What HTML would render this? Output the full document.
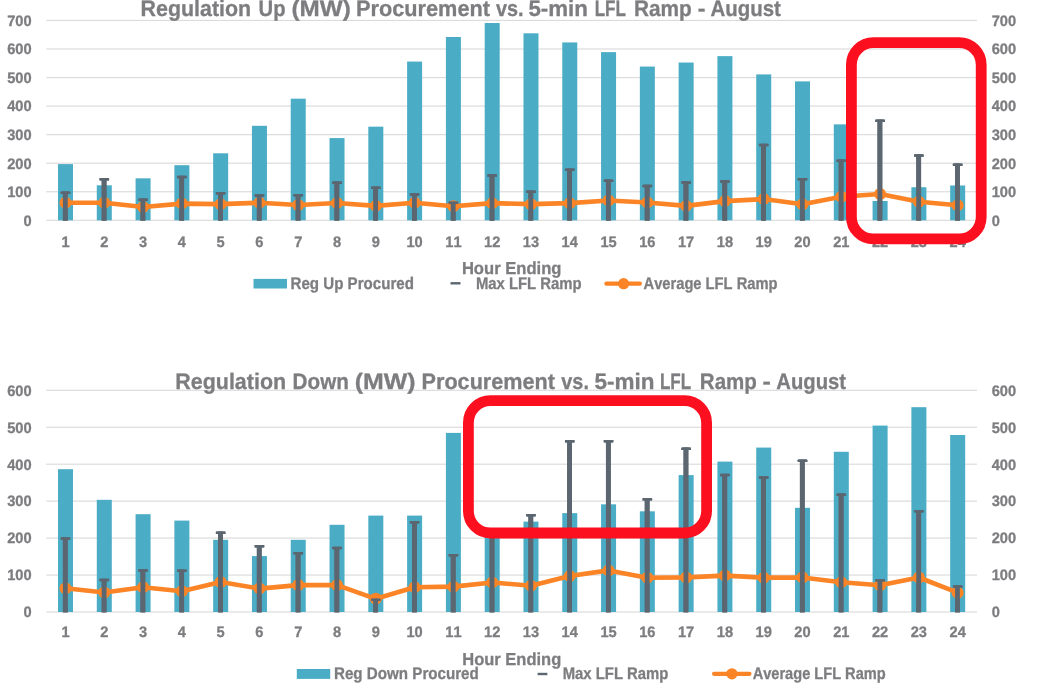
<!DOCTYPE html>
<html><head><meta charset="utf-8"><style>
html,body{margin:0;padding:0;background:#fff;width:1042px;height:683px;overflow:hidden}
svg{display:block;will-change:transform}
.t{font-family:"Liberation Sans",sans-serif;font-weight:bold;font-size:15px;fill:#7d7d80;font-kerning:none;text-rendering:geometricPrecision;stroke:#7d7d80;stroke-width:0.3px}
.tk{font-size:15.2px}
</style></head><body>
<svg width="1042" height="683" viewBox="0 0 1042 683">
<rect width="1042" height="683" fill="#fff"/>
<rect x="46.2" y="219.70" width="930.8" height="1.2" fill="#dcdcdc"/>
<rect x="46.2" y="191.15" width="930.8" height="1.2" fill="#dcdcdc"/>
<rect x="46.2" y="162.60" width="930.8" height="1.2" fill="#dcdcdc"/>
<rect x="46.2" y="134.05" width="930.8" height="1.2" fill="#dcdcdc"/>
<rect x="46.2" y="105.50" width="930.8" height="1.2" fill="#dcdcdc"/>
<rect x="46.2" y="76.95" width="930.8" height="1.2" fill="#dcdcdc"/>
<rect x="46.2" y="48.40" width="930.8" height="1.2" fill="#dcdcdc"/>
<rect x="46.2" y="19.85" width="930.8" height="1.2" fill="#dcdcdc"/>
<rect x="58.00" y="164.11" width="15.0" height="56.19" fill="#4bacc6"/>
<rect x="96.79" y="185.30" width="15.0" height="35.00" fill="#4bacc6"/>
<rect x="135.58" y="178.33" width="15.0" height="41.97" fill="#4bacc6"/>
<rect x="174.37" y="165.20" width="15.0" height="55.10" fill="#4bacc6"/>
<rect x="213.16" y="153.29" width="15.0" height="67.01" fill="#4bacc6"/>
<rect x="251.95" y="125.80" width="15.0" height="94.50" fill="#4bacc6"/>
<rect x="290.74" y="98.68" width="15.0" height="121.62" fill="#4bacc6"/>
<rect x="329.53" y="138.08" width="15.0" height="82.22" fill="#4bacc6"/>
<rect x="368.32" y="126.66" width="15.0" height="93.64" fill="#4bacc6"/>
<rect x="407.11" y="61.56" width="15.0" height="158.74" fill="#4bacc6"/>
<rect x="445.90" y="37.01" width="15.0" height="183.29" fill="#4bacc6"/>
<rect x="484.69" y="23.02" width="15.0" height="197.28" fill="#4bacc6"/>
<rect x="523.48" y="33.30" width="15.0" height="187.00" fill="#4bacc6"/>
<rect x="562.27" y="42.43" width="15.0" height="177.87" fill="#4bacc6"/>
<rect x="601.06" y="52.14" width="15.0" height="168.16" fill="#4bacc6"/>
<rect x="639.85" y="66.56" width="15.0" height="153.74" fill="#4bacc6"/>
<rect x="678.64" y="62.53" width="15.0" height="157.77" fill="#4bacc6"/>
<rect x="717.43" y="56.14" width="15.0" height="164.16" fill="#4bacc6"/>
<rect x="756.22" y="74.41" width="15.0" height="145.89" fill="#4bacc6"/>
<rect x="795.01" y="81.38" width="15.0" height="138.92" fill="#4bacc6"/>
<rect x="833.80" y="124.37" width="15.0" height="95.93" fill="#4bacc6"/>
<rect x="872.59" y="200.97" width="15.0" height="19.33" fill="#4bacc6"/>
<rect x="911.38" y="187.24" width="15.0" height="33.06" fill="#4bacc6"/>
<rect x="950.17" y="185.47" width="15.0" height="34.83" fill="#4bacc6"/>
<rect x="62.90" y="191.75" width="4.8" height="28.95" fill="#5b6670"/>
<rect x="60.70" y="191.60" width="9.6" height="2.5" rx="0.6" fill="#5b6670"/>
<rect x="101.69" y="178.19" width="4.8" height="42.51" fill="#5b6670"/>
<rect x="99.49" y="178.04" width="9.6" height="2.5" rx="0.6" fill="#5b6670"/>
<rect x="140.48" y="198.54" width="4.8" height="22.16" fill="#5b6670"/>
<rect x="138.28" y="198.39" width="9.6" height="2.5" rx="0.6" fill="#5b6670"/>
<rect x="179.27" y="175.90" width="4.8" height="44.80" fill="#5b6670"/>
<rect x="177.07" y="175.75" width="9.6" height="2.5" rx="0.6" fill="#5b6670"/>
<rect x="218.06" y="192.04" width="4.8" height="28.66" fill="#5b6670"/>
<rect x="215.86" y="191.89" width="9.6" height="2.5" rx="0.6" fill="#5b6670"/>
<rect x="256.85" y="194.35" width="4.8" height="26.35" fill="#5b6670"/>
<rect x="254.65" y="194.20" width="9.6" height="2.5" rx="0.6" fill="#5b6670"/>
<rect x="295.64" y="194.18" width="4.8" height="26.52" fill="#5b6670"/>
<rect x="293.44" y="194.03" width="9.6" height="2.5" rx="0.6" fill="#5b6670"/>
<rect x="334.43" y="181.61" width="4.8" height="39.09" fill="#5b6670"/>
<rect x="332.23" y="181.46" width="9.6" height="2.5" rx="0.6" fill="#5b6670"/>
<rect x="373.22" y="186.75" width="4.8" height="33.95" fill="#5b6670"/>
<rect x="371.02" y="186.60" width="9.6" height="2.5" rx="0.6" fill="#5b6670"/>
<rect x="412.01" y="193.32" width="4.8" height="27.38" fill="#5b6670"/>
<rect x="409.81" y="193.17" width="9.6" height="2.5" rx="0.6" fill="#5b6670"/>
<rect x="450.80" y="201.66" width="4.8" height="19.04" fill="#5b6670"/>
<rect x="448.60" y="201.51" width="9.6" height="2.5" rx="0.6" fill="#5b6670"/>
<rect x="489.59" y="174.48" width="4.8" height="46.22" fill="#5b6670"/>
<rect x="487.39" y="174.33" width="9.6" height="2.5" rx="0.6" fill="#5b6670"/>
<rect x="528.38" y="190.75" width="4.8" height="29.95" fill="#5b6670"/>
<rect x="526.18" y="190.60" width="9.6" height="2.5" rx="0.6" fill="#5b6670"/>
<rect x="567.17" y="168.77" width="4.8" height="51.93" fill="#5b6670"/>
<rect x="564.97" y="168.62" width="9.6" height="2.5" rx="0.6" fill="#5b6670"/>
<rect x="605.96" y="179.62" width="4.8" height="41.08" fill="#5b6670"/>
<rect x="603.76" y="179.47" width="9.6" height="2.5" rx="0.6" fill="#5b6670"/>
<rect x="644.75" y="184.81" width="4.8" height="35.89" fill="#5b6670"/>
<rect x="642.55" y="184.66" width="9.6" height="2.5" rx="0.6" fill="#5b6670"/>
<rect x="683.54" y="181.41" width="4.8" height="39.29" fill="#5b6670"/>
<rect x="681.34" y="181.26" width="9.6" height="2.5" rx="0.6" fill="#5b6670"/>
<rect x="722.33" y="180.47" width="4.8" height="40.23" fill="#5b6670"/>
<rect x="720.13" y="180.32" width="9.6" height="2.5" rx="0.6" fill="#5b6670"/>
<rect x="761.12" y="143.93" width="4.8" height="76.77" fill="#5b6670"/>
<rect x="758.92" y="143.78" width="9.6" height="2.5" rx="0.6" fill="#5b6670"/>
<rect x="799.91" y="178.05" width="4.8" height="42.65" fill="#5b6670"/>
<rect x="797.71" y="177.90" width="9.6" height="2.5" rx="0.6" fill="#5b6670"/>
<rect x="838.70" y="159.63" width="4.8" height="61.07" fill="#5b6670"/>
<rect x="836.50" y="159.48" width="9.6" height="2.5" rx="0.6" fill="#5b6670"/>
<rect x="877.49" y="119.72" width="4.8" height="100.98" fill="#5b6670"/>
<rect x="875.29" y="119.57" width="9.6" height="2.5" rx="0.6" fill="#5b6670"/>
<rect x="916.28" y="154.49" width="4.8" height="66.21" fill="#5b6670"/>
<rect x="914.08" y="154.34" width="9.6" height="2.5" rx="0.6" fill="#5b6670"/>
<rect x="955.07" y="163.69" width="4.8" height="57.01" fill="#5b6670"/>
<rect x="952.87" y="163.54" width="9.6" height="2.5" rx="0.6" fill="#5b6670"/>
<polyline points="65.50,202.74 104.29,202.74 143.08,207.02 181.87,203.60 220.66,204.17 259.45,202.74 298.24,205.03 337.03,203.03 375.82,205.88 414.61,202.74 453.40,206.28 492.19,203.14 530.98,204.17 569.77,203.14 608.56,200.49 647.35,202.46 686.14,205.88 724.93,201.11 763.72,199.09 802.51,204.17 841.30,196.75 880.09,193.98 918.88,201.69 957.67,205.31" fill="none" stroke="#fb8426" stroke-width="4.6" stroke-linejoin="round"/>
<circle cx="65.50" cy="202.74" r="6.0" fill="#fb8426"/>
<circle cx="104.29" cy="202.74" r="6.0" fill="#fb8426"/>
<circle cx="143.08" cy="207.02" r="6.0" fill="#fb8426"/>
<circle cx="181.87" cy="203.60" r="6.0" fill="#fb8426"/>
<circle cx="220.66" cy="204.17" r="6.0" fill="#fb8426"/>
<circle cx="259.45" cy="202.74" r="6.0" fill="#fb8426"/>
<circle cx="298.24" cy="205.03" r="6.0" fill="#fb8426"/>
<circle cx="337.03" cy="203.03" r="6.0" fill="#fb8426"/>
<circle cx="375.82" cy="205.88" r="6.0" fill="#fb8426"/>
<circle cx="414.61" cy="202.74" r="6.0" fill="#fb8426"/>
<circle cx="453.40" cy="206.28" r="6.0" fill="#fb8426"/>
<circle cx="492.19" cy="203.14" r="6.0" fill="#fb8426"/>
<circle cx="530.98" cy="204.17" r="6.0" fill="#fb8426"/>
<circle cx="569.77" cy="203.14" r="6.0" fill="#fb8426"/>
<circle cx="608.56" cy="200.49" r="6.0" fill="#fb8426"/>
<circle cx="647.35" cy="202.46" r="6.0" fill="#fb8426"/>
<circle cx="686.14" cy="205.88" r="6.0" fill="#fb8426"/>
<circle cx="724.93" cy="201.11" r="6.0" fill="#fb8426"/>
<circle cx="763.72" cy="199.09" r="6.0" fill="#fb8426"/>
<circle cx="802.51" cy="204.17" r="6.0" fill="#fb8426"/>
<circle cx="841.30" cy="196.75" r="6.0" fill="#fb8426"/>
<circle cx="880.09" cy="193.98" r="6.0" fill="#fb8426"/>
<circle cx="918.88" cy="201.69" r="6.0" fill="#fb8426"/>
<circle cx="957.67" cy="205.31" r="6.0" fill="#fb8426"/>
<rect x="62.90" y="191.75" width="4.8" height="28.95" fill="#5b6670"/>
<rect x="60.70" y="191.60" width="9.6" height="2.5" rx="0.6" fill="#5b6670"/>
<rect x="101.69" y="178.19" width="4.8" height="42.51" fill="#5b6670"/>
<rect x="99.49" y="178.04" width="9.6" height="2.5" rx="0.6" fill="#5b6670"/>
<rect x="140.48" y="198.54" width="4.8" height="22.16" fill="#5b6670"/>
<rect x="138.28" y="198.39" width="9.6" height="2.5" rx="0.6" fill="#5b6670"/>
<rect x="179.27" y="175.90" width="4.8" height="44.80" fill="#5b6670"/>
<rect x="177.07" y="175.75" width="9.6" height="2.5" rx="0.6" fill="#5b6670"/>
<rect x="218.06" y="192.04" width="4.8" height="28.66" fill="#5b6670"/>
<rect x="215.86" y="191.89" width="9.6" height="2.5" rx="0.6" fill="#5b6670"/>
<rect x="256.85" y="194.35" width="4.8" height="26.35" fill="#5b6670"/>
<rect x="254.65" y="194.20" width="9.6" height="2.5" rx="0.6" fill="#5b6670"/>
<rect x="295.64" y="194.18" width="4.8" height="26.52" fill="#5b6670"/>
<rect x="293.44" y="194.03" width="9.6" height="2.5" rx="0.6" fill="#5b6670"/>
<rect x="334.43" y="181.61" width="4.8" height="39.09" fill="#5b6670"/>
<rect x="332.23" y="181.46" width="9.6" height="2.5" rx="0.6" fill="#5b6670"/>
<rect x="373.22" y="186.75" width="4.8" height="33.95" fill="#5b6670"/>
<rect x="371.02" y="186.60" width="9.6" height="2.5" rx="0.6" fill="#5b6670"/>
<rect x="412.01" y="193.32" width="4.8" height="27.38" fill="#5b6670"/>
<rect x="409.81" y="193.17" width="9.6" height="2.5" rx="0.6" fill="#5b6670"/>
<rect x="450.80" y="201.66" width="4.8" height="19.04" fill="#5b6670"/>
<rect x="448.60" y="201.51" width="9.6" height="2.5" rx="0.6" fill="#5b6670"/>
<rect x="489.59" y="174.48" width="4.8" height="46.22" fill="#5b6670"/>
<rect x="487.39" y="174.33" width="9.6" height="2.5" rx="0.6" fill="#5b6670"/>
<rect x="528.38" y="190.75" width="4.8" height="29.95" fill="#5b6670"/>
<rect x="526.18" y="190.60" width="9.6" height="2.5" rx="0.6" fill="#5b6670"/>
<rect x="567.17" y="168.77" width="4.8" height="51.93" fill="#5b6670"/>
<rect x="564.97" y="168.62" width="9.6" height="2.5" rx="0.6" fill="#5b6670"/>
<rect x="605.96" y="179.62" width="4.8" height="41.08" fill="#5b6670"/>
<rect x="603.76" y="179.47" width="9.6" height="2.5" rx="0.6" fill="#5b6670"/>
<rect x="644.75" y="184.81" width="4.8" height="35.89" fill="#5b6670"/>
<rect x="642.55" y="184.66" width="9.6" height="2.5" rx="0.6" fill="#5b6670"/>
<rect x="683.54" y="181.41" width="4.8" height="39.29" fill="#5b6670"/>
<rect x="681.34" y="181.26" width="9.6" height="2.5" rx="0.6" fill="#5b6670"/>
<rect x="722.33" y="180.47" width="4.8" height="40.23" fill="#5b6670"/>
<rect x="720.13" y="180.32" width="9.6" height="2.5" rx="0.6" fill="#5b6670"/>
<rect x="761.12" y="143.93" width="4.8" height="76.77" fill="#5b6670"/>
<rect x="758.92" y="143.78" width="9.6" height="2.5" rx="0.6" fill="#5b6670"/>
<rect x="799.91" y="178.05" width="4.8" height="42.65" fill="#5b6670"/>
<rect x="797.71" y="177.90" width="9.6" height="2.5" rx="0.6" fill="#5b6670"/>
<rect x="838.70" y="159.63" width="4.8" height="61.07" fill="#5b6670"/>
<rect x="836.50" y="159.48" width="9.6" height="2.5" rx="0.6" fill="#5b6670"/>
<rect x="877.49" y="119.72" width="4.8" height="100.98" fill="#5b6670"/>
<rect x="875.29" y="119.57" width="9.6" height="2.5" rx="0.6" fill="#5b6670"/>
<rect x="916.28" y="154.49" width="4.8" height="66.21" fill="#5b6670"/>
<rect x="914.08" y="154.34" width="9.6" height="2.5" rx="0.6" fill="#5b6670"/>
<rect x="955.07" y="163.69" width="4.8" height="57.01" fill="#5b6670"/>
<rect x="952.87" y="163.54" width="9.6" height="2.5" rx="0.6" fill="#5b6670"/>
<text x="31.6" y="225.60" text-anchor="end" textLength="8.16" lengthAdjust="spacingAndGlyphs" class="t tk">0</text>
<text x="991.7" y="225.60" textLength="8.16" lengthAdjust="spacingAndGlyphs" class="t tk">0</text>
<text x="31.6" y="197.05" text-anchor="end" textLength="24.47" lengthAdjust="spacingAndGlyphs" class="t tk">100</text>
<text x="991.7" y="197.05" textLength="24.47" lengthAdjust="spacingAndGlyphs" class="t tk">100</text>
<text x="31.6" y="168.50" text-anchor="end" textLength="24.47" lengthAdjust="spacingAndGlyphs" class="t tk">200</text>
<text x="991.7" y="168.50" textLength="24.47" lengthAdjust="spacingAndGlyphs" class="t tk">200</text>
<text x="31.6" y="139.95" text-anchor="end" textLength="24.47" lengthAdjust="spacingAndGlyphs" class="t tk">300</text>
<text x="991.7" y="139.95" textLength="24.47" lengthAdjust="spacingAndGlyphs" class="t tk">300</text>
<text x="31.6" y="111.40" text-anchor="end" textLength="24.47" lengthAdjust="spacingAndGlyphs" class="t tk">400</text>
<text x="991.7" y="111.40" textLength="24.47" lengthAdjust="spacingAndGlyphs" class="t tk">400</text>
<text x="31.6" y="82.85" text-anchor="end" textLength="24.47" lengthAdjust="spacingAndGlyphs" class="t tk">500</text>
<text x="991.7" y="82.85" textLength="24.47" lengthAdjust="spacingAndGlyphs" class="t tk">500</text>
<text x="31.6" y="54.30" text-anchor="end" textLength="24.47" lengthAdjust="spacingAndGlyphs" class="t tk">600</text>
<text x="991.7" y="54.30" textLength="24.47" lengthAdjust="spacingAndGlyphs" class="t tk">600</text>
<text x="31.6" y="25.75" text-anchor="end" textLength="24.47" lengthAdjust="spacingAndGlyphs" class="t tk">700</text>
<text x="991.7" y="25.75" textLength="24.47" lengthAdjust="spacingAndGlyphs" class="t tk">700</text>
<text x="65.50" y="246.5" text-anchor="middle" textLength="8.16" lengthAdjust="spacingAndGlyphs" class="t tk">1</text>
<text x="104.29" y="246.5" text-anchor="middle" textLength="8.16" lengthAdjust="spacingAndGlyphs" class="t tk">2</text>
<text x="143.08" y="246.5" text-anchor="middle" textLength="8.16" lengthAdjust="spacingAndGlyphs" class="t tk">3</text>
<text x="181.87" y="246.5" text-anchor="middle" textLength="8.16" lengthAdjust="spacingAndGlyphs" class="t tk">4</text>
<text x="220.66" y="246.5" text-anchor="middle" textLength="8.16" lengthAdjust="spacingAndGlyphs" class="t tk">5</text>
<text x="259.45" y="246.5" text-anchor="middle" textLength="8.16" lengthAdjust="spacingAndGlyphs" class="t tk">6</text>
<text x="298.24" y="246.5" text-anchor="middle" textLength="8.16" lengthAdjust="spacingAndGlyphs" class="t tk">7</text>
<text x="337.03" y="246.5" text-anchor="middle" textLength="8.16" lengthAdjust="spacingAndGlyphs" class="t tk">8</text>
<text x="375.82" y="246.5" text-anchor="middle" textLength="8.16" lengthAdjust="spacingAndGlyphs" class="t tk">9</text>
<text x="414.61" y="246.5" text-anchor="middle" textLength="16.32" lengthAdjust="spacingAndGlyphs" class="t tk">10</text>
<text x="453.40" y="246.5" text-anchor="middle" textLength="16.32" lengthAdjust="spacingAndGlyphs" class="t tk">11</text>
<text x="492.19" y="246.5" text-anchor="middle" textLength="16.32" lengthAdjust="spacingAndGlyphs" class="t tk">12</text>
<text x="530.98" y="246.5" text-anchor="middle" textLength="16.32" lengthAdjust="spacingAndGlyphs" class="t tk">13</text>
<text x="569.77" y="246.5" text-anchor="middle" textLength="16.32" lengthAdjust="spacingAndGlyphs" class="t tk">14</text>
<text x="608.56" y="246.5" text-anchor="middle" textLength="16.32" lengthAdjust="spacingAndGlyphs" class="t tk">15</text>
<text x="647.35" y="246.5" text-anchor="middle" textLength="16.32" lengthAdjust="spacingAndGlyphs" class="t tk">16</text>
<text x="686.14" y="246.5" text-anchor="middle" textLength="16.32" lengthAdjust="spacingAndGlyphs" class="t tk">17</text>
<text x="724.93" y="246.5" text-anchor="middle" textLength="16.32" lengthAdjust="spacingAndGlyphs" class="t tk">18</text>
<text x="763.72" y="246.5" text-anchor="middle" textLength="16.32" lengthAdjust="spacingAndGlyphs" class="t tk">19</text>
<text x="802.51" y="246.5" text-anchor="middle" textLength="16.32" lengthAdjust="spacingAndGlyphs" class="t tk">20</text>
<text x="841.30" y="246.5" text-anchor="middle" textLength="16.32" lengthAdjust="spacingAndGlyphs" class="t tk">21</text>
<text x="880.09" y="246.5" text-anchor="middle" textLength="16.32" lengthAdjust="spacingAndGlyphs" class="t tk">22</text>
<text x="918.88" y="246.5" text-anchor="middle" textLength="16.32" lengthAdjust="spacingAndGlyphs" class="t tk">23</text>
<text x="957.67" y="246.5" text-anchor="middle" textLength="16.32" lengthAdjust="spacingAndGlyphs" class="t tk">24</text>
<text x="140.57" y="15.7" textLength="110.56" lengthAdjust="spacingAndGlyphs" style="font-size:22.4px" class="t">Regulation</text>
<text x="258.59" y="15.7" textLength="26.94" lengthAdjust="spacingAndGlyphs" style="font-size:22.4px" class="t">Up</text>
<text x="291.49" y="15.7" textLength="59.32" lengthAdjust="spacingAndGlyphs" style="font-size:22.4px" class="t">(MW)</text>
<text x="356.05" y="15.7" textLength="133.92" lengthAdjust="spacingAndGlyphs" style="font-size:22.4px" class="t">Procurement</text>
<text x="495.92" y="15.7" textLength="27.65" lengthAdjust="spacingAndGlyphs" style="font-size:22.4px" class="t">vs.</text>
<text x="528.41" y="15.7" textLength="59.47" lengthAdjust="spacingAndGlyphs" style="font-size:22.4px" class="t">5-min</text>
<text x="594.66" y="15.7" textLength="31.27" lengthAdjust="spacingAndGlyphs" style="font-size:22.4px" class="t">LFL</text>
<text x="633.91" y="15.7" textLength="57.85" lengthAdjust="spacingAndGlyphs" style="font-size:22.4px" class="t">Ramp</text>
<text x="697.79" y="15.7" textLength="7.74" lengthAdjust="spacingAndGlyphs" style="font-size:22.4px" class="t">-</text>
<text x="710.39" y="15.7" textLength="70.46" lengthAdjust="spacingAndGlyphs" style="font-size:22.4px" class="t">August</text>
<text x="461.89" y="274.3" textLength="99.62" lengthAdjust="spacingAndGlyphs" style="font-size:17.3px" class="t">Hour Ending</text>
<rect x="253.5" y="278.9" width="33.5" height="9.6" fill="#4bacc6"/>
<rect x="450.5" y="282.1" width="10.0" height="2.4" fill="#5b6670"/>
<line x1="606.4" y1="283.7" x2="639.9" y2="283.7" stroke="#fb8426" stroke-width="4.2" stroke-linecap="round"/>
<circle cx="623.6" cy="283.7" r="5.6" fill="#fb8426"/>
<text x="290.59" y="289.45" textLength="123.30" lengthAdjust="spacingAndGlyphs" style="font-size:16.8px" class="t">Reg Up Procured</text>
<text x="475.91" y="289.45" textLength="105.70" lengthAdjust="spacingAndGlyphs" style="font-size:16.8px" class="t">Max LFL Ramp</text>
<text x="643.53" y="289.45" textLength="133.97" lengthAdjust="spacingAndGlyphs" style="font-size:16.8px" class="t">Average LFL Ramp</text>
<rect x="851.40" y="42.70" width="129.80" height="196.20" rx="22" ry="22" fill="none" stroke="#fc0f1f" stroke-width="10.8"/>
<rect x="46.2" y="611.40" width="930.8" height="1.2" fill="#dcdcdc"/>
<rect x="46.2" y="574.45" width="930.8" height="1.2" fill="#dcdcdc"/>
<rect x="46.2" y="537.50" width="930.8" height="1.2" fill="#dcdcdc"/>
<rect x="46.2" y="500.55" width="930.8" height="1.2" fill="#dcdcdc"/>
<rect x="46.2" y="463.60" width="930.8" height="1.2" fill="#dcdcdc"/>
<rect x="46.2" y="426.65" width="930.8" height="1.2" fill="#dcdcdc"/>
<rect x="46.2" y="389.70" width="930.8" height="1.2" fill="#dcdcdc"/>
<rect x="58.00" y="469.19" width="15.0" height="142.81" fill="#4bacc6"/>
<rect x="96.79" y="499.82" width="15.0" height="112.18" fill="#4bacc6"/>
<rect x="135.58" y="514.19" width="15.0" height="97.81" fill="#4bacc6"/>
<rect x="174.37" y="520.59" width="15.0" height="91.41" fill="#4bacc6"/>
<rect x="213.16" y="539.80" width="15.0" height="72.20" fill="#4bacc6"/>
<rect x="251.95" y="556.09" width="15.0" height="55.91" fill="#4bacc6"/>
<rect x="290.74" y="539.80" width="15.0" height="72.20" fill="#4bacc6"/>
<rect x="329.53" y="524.80" width="15.0" height="87.20" fill="#4bacc6"/>
<rect x="368.32" y="515.60" width="15.0" height="96.40" fill="#4bacc6"/>
<rect x="407.11" y="515.60" width="15.0" height="96.40" fill="#4bacc6"/>
<rect x="445.90" y="432.90" width="15.0" height="179.10" fill="#4bacc6"/>
<rect x="484.69" y="532.56" width="15.0" height="79.44" fill="#4bacc6"/>
<rect x="523.48" y="521.62" width="15.0" height="90.38" fill="#4bacc6"/>
<rect x="562.27" y="513.12" width="15.0" height="98.88" fill="#4bacc6"/>
<rect x="601.06" y="504.33" width="15.0" height="107.67" fill="#4bacc6"/>
<rect x="639.85" y="511.31" width="15.0" height="100.69" fill="#4bacc6"/>
<rect x="678.64" y="475.10" width="15.0" height="136.90" fill="#4bacc6"/>
<rect x="717.43" y="461.61" width="15.0" height="150.39" fill="#4bacc6"/>
<rect x="756.22" y="447.57" width="15.0" height="164.43" fill="#4bacc6"/>
<rect x="795.01" y="507.80" width="15.0" height="104.20" fill="#4bacc6"/>
<rect x="833.80" y="451.78" width="15.0" height="160.22" fill="#4bacc6"/>
<rect x="872.59" y="425.59" width="15.0" height="186.41" fill="#4bacc6"/>
<rect x="911.38" y="407.19" width="15.0" height="204.81" fill="#4bacc6"/>
<rect x="950.17" y="435.01" width="15.0" height="176.99" fill="#4bacc6"/>
<rect x="62.90" y="537.47" width="4.8" height="74.93" fill="#5b6670"/>
<rect x="60.70" y="537.32" width="9.6" height="2.5" rx="0.6" fill="#5b6670"/>
<rect x="101.69" y="578.86" width="4.8" height="33.54" fill="#5b6670"/>
<rect x="99.49" y="578.71" width="9.6" height="2.5" rx="0.6" fill="#5b6670"/>
<rect x="140.48" y="569.36" width="4.8" height="43.04" fill="#5b6670"/>
<rect x="138.28" y="569.21" width="9.6" height="2.5" rx="0.6" fill="#5b6670"/>
<rect x="179.27" y="569.66" width="4.8" height="42.74" fill="#5b6670"/>
<rect x="177.07" y="569.51" width="9.6" height="2.5" rx="0.6" fill="#5b6670"/>
<rect x="218.06" y="531.67" width="4.8" height="80.73" fill="#5b6670"/>
<rect x="215.86" y="531.52" width="9.6" height="2.5" rx="0.6" fill="#5b6670"/>
<rect x="256.85" y="545.16" width="4.8" height="67.24" fill="#5b6670"/>
<rect x="254.65" y="545.01" width="9.6" height="2.5" rx="0.6" fill="#5b6670"/>
<rect x="295.64" y="552.25" width="4.8" height="60.15" fill="#5b6670"/>
<rect x="293.44" y="552.10" width="9.6" height="2.5" rx="0.6" fill="#5b6670"/>
<rect x="334.43" y="546.97" width="4.8" height="65.43" fill="#5b6670"/>
<rect x="332.23" y="546.82" width="9.6" height="2.5" rx="0.6" fill="#5b6670"/>
<rect x="373.22" y="598.70" width="4.8" height="13.70" fill="#5b6670"/>
<rect x="371.02" y="598.55" width="9.6" height="2.5" rx="0.6" fill="#5b6670"/>
<rect x="412.01" y="521.18" width="4.8" height="91.22" fill="#5b6670"/>
<rect x="409.81" y="521.03" width="9.6" height="2.5" rx="0.6" fill="#5b6670"/>
<rect x="450.80" y="554.17" width="4.8" height="58.23" fill="#5b6670"/>
<rect x="448.60" y="554.02" width="9.6" height="2.5" rx="0.6" fill="#5b6670"/>
<rect x="489.59" y="531.82" width="4.8" height="80.58" fill="#5b6670"/>
<rect x="487.39" y="531.67" width="9.6" height="2.5" rx="0.6" fill="#5b6670"/>
<rect x="528.38" y="514.12" width="4.8" height="98.28" fill="#5b6670"/>
<rect x="526.18" y="513.97" width="9.6" height="2.5" rx="0.6" fill="#5b6670"/>
<rect x="567.17" y="440.26" width="4.8" height="172.14" fill="#5b6670"/>
<rect x="564.97" y="440.11" width="9.6" height="2.5" rx="0.6" fill="#5b6670"/>
<rect x="605.96" y="440.11" width="4.8" height="172.29" fill="#5b6670"/>
<rect x="603.76" y="439.96" width="9.6" height="2.5" rx="0.6" fill="#5b6670"/>
<rect x="644.75" y="498.27" width="4.8" height="114.13" fill="#5b6670"/>
<rect x="642.55" y="498.12" width="9.6" height="2.5" rx="0.6" fill="#5b6670"/>
<rect x="683.54" y="447.65" width="4.8" height="164.75" fill="#5b6670"/>
<rect x="681.34" y="447.50" width="9.6" height="2.5" rx="0.6" fill="#5b6670"/>
<rect x="722.33" y="473.99" width="4.8" height="138.41" fill="#5b6670"/>
<rect x="720.13" y="473.84" width="9.6" height="2.5" rx="0.6" fill="#5b6670"/>
<rect x="761.12" y="476.39" width="4.8" height="136.01" fill="#5b6670"/>
<rect x="758.92" y="476.24" width="9.6" height="2.5" rx="0.6" fill="#5b6670"/>
<rect x="799.91" y="459.77" width="4.8" height="152.63" fill="#5b6670"/>
<rect x="797.71" y="459.62" width="9.6" height="2.5" rx="0.6" fill="#5b6670"/>
<rect x="838.70" y="493.58" width="4.8" height="118.82" fill="#5b6670"/>
<rect x="836.50" y="493.43" width="9.6" height="2.5" rx="0.6" fill="#5b6670"/>
<rect x="877.49" y="579.30" width="4.8" height="33.10" fill="#5b6670"/>
<rect x="875.29" y="579.15" width="9.6" height="2.5" rx="0.6" fill="#5b6670"/>
<rect x="916.28" y="510.05" width="4.8" height="102.35" fill="#5b6670"/>
<rect x="914.08" y="509.90" width="9.6" height="2.5" rx="0.6" fill="#5b6670"/>
<rect x="955.07" y="585.47" width="4.8" height="26.93" fill="#5b6670"/>
<rect x="952.87" y="585.32" width="9.6" height="2.5" rx="0.6" fill="#5b6670"/>
<polyline points="65.50,588.32 104.29,592.56 143.08,587.21 181.87,591.20 220.66,582.00 259.45,588.61 298.24,585.10 337.03,585.10 375.82,598.81 414.61,587.21 453.40,586.65 492.19,582.44 530.98,585.80 569.77,576.01 608.56,570.39 647.35,577.71 686.14,577.41 724.93,575.60 763.72,577.64 802.51,577.45 841.30,582.33 880.09,585.17 918.88,577.49 957.67,592.64" fill="none" stroke="#fb8426" stroke-width="4.6" stroke-linejoin="round"/>
<circle cx="65.50" cy="588.32" r="6.0" fill="#fb8426"/>
<circle cx="104.29" cy="592.56" r="6.0" fill="#fb8426"/>
<circle cx="143.08" cy="587.21" r="6.0" fill="#fb8426"/>
<circle cx="181.87" cy="591.20" r="6.0" fill="#fb8426"/>
<circle cx="220.66" cy="582.00" r="6.0" fill="#fb8426"/>
<circle cx="259.45" cy="588.61" r="6.0" fill="#fb8426"/>
<circle cx="298.24" cy="585.10" r="6.0" fill="#fb8426"/>
<circle cx="337.03" cy="585.10" r="6.0" fill="#fb8426"/>
<circle cx="375.82" cy="598.81" r="6.0" fill="#fb8426"/>
<circle cx="414.61" cy="587.21" r="6.0" fill="#fb8426"/>
<circle cx="453.40" cy="586.65" r="6.0" fill="#fb8426"/>
<circle cx="492.19" cy="582.44" r="6.0" fill="#fb8426"/>
<circle cx="530.98" cy="585.80" r="6.0" fill="#fb8426"/>
<circle cx="569.77" cy="576.01" r="6.0" fill="#fb8426"/>
<circle cx="608.56" cy="570.39" r="6.0" fill="#fb8426"/>
<circle cx="647.35" cy="577.71" r="6.0" fill="#fb8426"/>
<circle cx="686.14" cy="577.41" r="6.0" fill="#fb8426"/>
<circle cx="724.93" cy="575.60" r="6.0" fill="#fb8426"/>
<circle cx="763.72" cy="577.64" r="6.0" fill="#fb8426"/>
<circle cx="802.51" cy="577.45" r="6.0" fill="#fb8426"/>
<circle cx="841.30" cy="582.33" r="6.0" fill="#fb8426"/>
<circle cx="880.09" cy="585.17" r="6.0" fill="#fb8426"/>
<circle cx="918.88" cy="577.49" r="6.0" fill="#fb8426"/>
<circle cx="957.67" cy="592.64" r="6.0" fill="#fb8426"/>
<rect x="62.90" y="537.47" width="4.8" height="74.93" fill="#5b6670"/>
<rect x="60.70" y="537.32" width="9.6" height="2.5" rx="0.6" fill="#5b6670"/>
<rect x="101.69" y="578.86" width="4.8" height="33.54" fill="#5b6670"/>
<rect x="99.49" y="578.71" width="9.6" height="2.5" rx="0.6" fill="#5b6670"/>
<rect x="140.48" y="569.36" width="4.8" height="43.04" fill="#5b6670"/>
<rect x="138.28" y="569.21" width="9.6" height="2.5" rx="0.6" fill="#5b6670"/>
<rect x="179.27" y="569.66" width="4.8" height="42.74" fill="#5b6670"/>
<rect x="177.07" y="569.51" width="9.6" height="2.5" rx="0.6" fill="#5b6670"/>
<rect x="218.06" y="531.67" width="4.8" height="80.73" fill="#5b6670"/>
<rect x="215.86" y="531.52" width="9.6" height="2.5" rx="0.6" fill="#5b6670"/>
<rect x="256.85" y="545.16" width="4.8" height="67.24" fill="#5b6670"/>
<rect x="254.65" y="545.01" width="9.6" height="2.5" rx="0.6" fill="#5b6670"/>
<rect x="295.64" y="552.25" width="4.8" height="60.15" fill="#5b6670"/>
<rect x="293.44" y="552.10" width="9.6" height="2.5" rx="0.6" fill="#5b6670"/>
<rect x="334.43" y="546.97" width="4.8" height="65.43" fill="#5b6670"/>
<rect x="332.23" y="546.82" width="9.6" height="2.5" rx="0.6" fill="#5b6670"/>
<rect x="373.22" y="598.70" width="4.8" height="13.70" fill="#5b6670"/>
<rect x="371.02" y="598.55" width="9.6" height="2.5" rx="0.6" fill="#5b6670"/>
<rect x="412.01" y="521.18" width="4.8" height="91.22" fill="#5b6670"/>
<rect x="409.81" y="521.03" width="9.6" height="2.5" rx="0.6" fill="#5b6670"/>
<rect x="450.80" y="554.17" width="4.8" height="58.23" fill="#5b6670"/>
<rect x="448.60" y="554.02" width="9.6" height="2.5" rx="0.6" fill="#5b6670"/>
<rect x="489.59" y="531.82" width="4.8" height="80.58" fill="#5b6670"/>
<rect x="487.39" y="531.67" width="9.6" height="2.5" rx="0.6" fill="#5b6670"/>
<rect x="528.38" y="514.12" width="4.8" height="98.28" fill="#5b6670"/>
<rect x="526.18" y="513.97" width="9.6" height="2.5" rx="0.6" fill="#5b6670"/>
<rect x="567.17" y="440.26" width="4.8" height="172.14" fill="#5b6670"/>
<rect x="564.97" y="440.11" width="9.6" height="2.5" rx="0.6" fill="#5b6670"/>
<rect x="605.96" y="440.11" width="4.8" height="172.29" fill="#5b6670"/>
<rect x="603.76" y="439.96" width="9.6" height="2.5" rx="0.6" fill="#5b6670"/>
<rect x="644.75" y="498.27" width="4.8" height="114.13" fill="#5b6670"/>
<rect x="642.55" y="498.12" width="9.6" height="2.5" rx="0.6" fill="#5b6670"/>
<rect x="683.54" y="447.65" width="4.8" height="164.75" fill="#5b6670"/>
<rect x="681.34" y="447.50" width="9.6" height="2.5" rx="0.6" fill="#5b6670"/>
<rect x="722.33" y="473.99" width="4.8" height="138.41" fill="#5b6670"/>
<rect x="720.13" y="473.84" width="9.6" height="2.5" rx="0.6" fill="#5b6670"/>
<rect x="761.12" y="476.39" width="4.8" height="136.01" fill="#5b6670"/>
<rect x="758.92" y="476.24" width="9.6" height="2.5" rx="0.6" fill="#5b6670"/>
<rect x="799.91" y="459.77" width="4.8" height="152.63" fill="#5b6670"/>
<rect x="797.71" y="459.62" width="9.6" height="2.5" rx="0.6" fill="#5b6670"/>
<rect x="838.70" y="493.58" width="4.8" height="118.82" fill="#5b6670"/>
<rect x="836.50" y="493.43" width="9.6" height="2.5" rx="0.6" fill="#5b6670"/>
<rect x="877.49" y="579.30" width="4.8" height="33.10" fill="#5b6670"/>
<rect x="875.29" y="579.15" width="9.6" height="2.5" rx="0.6" fill="#5b6670"/>
<rect x="916.28" y="510.05" width="4.8" height="102.35" fill="#5b6670"/>
<rect x="914.08" y="509.90" width="9.6" height="2.5" rx="0.6" fill="#5b6670"/>
<rect x="955.07" y="585.47" width="4.8" height="26.93" fill="#5b6670"/>
<rect x="952.87" y="585.32" width="9.6" height="2.5" rx="0.6" fill="#5b6670"/>
<text x="31.6" y="617.30" text-anchor="end" textLength="8.16" lengthAdjust="spacingAndGlyphs" class="t tk">0</text>
<text x="991.7" y="617.30" textLength="8.16" lengthAdjust="spacingAndGlyphs" class="t tk">0</text>
<text x="31.6" y="580.35" text-anchor="end" textLength="24.47" lengthAdjust="spacingAndGlyphs" class="t tk">100</text>
<text x="991.7" y="580.35" textLength="24.47" lengthAdjust="spacingAndGlyphs" class="t tk">100</text>
<text x="31.6" y="543.40" text-anchor="end" textLength="24.47" lengthAdjust="spacingAndGlyphs" class="t tk">200</text>
<text x="991.7" y="543.40" textLength="24.47" lengthAdjust="spacingAndGlyphs" class="t tk">200</text>
<text x="31.6" y="506.45" text-anchor="end" textLength="24.47" lengthAdjust="spacingAndGlyphs" class="t tk">300</text>
<text x="991.7" y="506.45" textLength="24.47" lengthAdjust="spacingAndGlyphs" class="t tk">300</text>
<text x="31.6" y="469.50" text-anchor="end" textLength="24.47" lengthAdjust="spacingAndGlyphs" class="t tk">400</text>
<text x="991.7" y="469.50" textLength="24.47" lengthAdjust="spacingAndGlyphs" class="t tk">400</text>
<text x="31.6" y="432.55" text-anchor="end" textLength="24.47" lengthAdjust="spacingAndGlyphs" class="t tk">500</text>
<text x="991.7" y="432.55" textLength="24.47" lengthAdjust="spacingAndGlyphs" class="t tk">500</text>
<text x="31.6" y="395.60" text-anchor="end" textLength="24.47" lengthAdjust="spacingAndGlyphs" class="t tk">600</text>
<text x="991.7" y="395.60" textLength="24.47" lengthAdjust="spacingAndGlyphs" class="t tk">600</text>
<text x="65.50" y="637.4" text-anchor="middle" textLength="8.16" lengthAdjust="spacingAndGlyphs" class="t tk">1</text>
<text x="104.29" y="637.4" text-anchor="middle" textLength="8.16" lengthAdjust="spacingAndGlyphs" class="t tk">2</text>
<text x="143.08" y="637.4" text-anchor="middle" textLength="8.16" lengthAdjust="spacingAndGlyphs" class="t tk">3</text>
<text x="181.87" y="637.4" text-anchor="middle" textLength="8.16" lengthAdjust="spacingAndGlyphs" class="t tk">4</text>
<text x="220.66" y="637.4" text-anchor="middle" textLength="8.16" lengthAdjust="spacingAndGlyphs" class="t tk">5</text>
<text x="259.45" y="637.4" text-anchor="middle" textLength="8.16" lengthAdjust="spacingAndGlyphs" class="t tk">6</text>
<text x="298.24" y="637.4" text-anchor="middle" textLength="8.16" lengthAdjust="spacingAndGlyphs" class="t tk">7</text>
<text x="337.03" y="637.4" text-anchor="middle" textLength="8.16" lengthAdjust="spacingAndGlyphs" class="t tk">8</text>
<text x="375.82" y="637.4" text-anchor="middle" textLength="8.16" lengthAdjust="spacingAndGlyphs" class="t tk">9</text>
<text x="414.61" y="637.4" text-anchor="middle" textLength="16.32" lengthAdjust="spacingAndGlyphs" class="t tk">10</text>
<text x="453.40" y="637.4" text-anchor="middle" textLength="16.32" lengthAdjust="spacingAndGlyphs" class="t tk">11</text>
<text x="492.19" y="637.4" text-anchor="middle" textLength="16.32" lengthAdjust="spacingAndGlyphs" class="t tk">12</text>
<text x="530.98" y="637.4" text-anchor="middle" textLength="16.32" lengthAdjust="spacingAndGlyphs" class="t tk">13</text>
<text x="569.77" y="637.4" text-anchor="middle" textLength="16.32" lengthAdjust="spacingAndGlyphs" class="t tk">14</text>
<text x="608.56" y="637.4" text-anchor="middle" textLength="16.32" lengthAdjust="spacingAndGlyphs" class="t tk">15</text>
<text x="647.35" y="637.4" text-anchor="middle" textLength="16.32" lengthAdjust="spacingAndGlyphs" class="t tk">16</text>
<text x="686.14" y="637.4" text-anchor="middle" textLength="16.32" lengthAdjust="spacingAndGlyphs" class="t tk">17</text>
<text x="724.93" y="637.4" text-anchor="middle" textLength="16.32" lengthAdjust="spacingAndGlyphs" class="t tk">18</text>
<text x="763.72" y="637.4" text-anchor="middle" textLength="16.32" lengthAdjust="spacingAndGlyphs" class="t tk">19</text>
<text x="802.51" y="637.4" text-anchor="middle" textLength="16.32" lengthAdjust="spacingAndGlyphs" class="t tk">20</text>
<text x="841.30" y="637.4" text-anchor="middle" textLength="16.32" lengthAdjust="spacingAndGlyphs" class="t tk">21</text>
<text x="880.09" y="637.4" text-anchor="middle" textLength="16.32" lengthAdjust="spacingAndGlyphs" class="t tk">22</text>
<text x="918.88" y="637.4" text-anchor="middle" textLength="16.32" lengthAdjust="spacingAndGlyphs" class="t tk">23</text>
<text x="957.67" y="637.4" text-anchor="middle" textLength="16.32" lengthAdjust="spacingAndGlyphs" class="t tk">24</text>
<text x="175.26" y="388.6" textLength="110.87" lengthAdjust="spacingAndGlyphs" style="font-size:22.4px" class="t">Regulation</text>
<text x="292.62" y="388.6" textLength="56.26" lengthAdjust="spacingAndGlyphs" style="font-size:22.4px" class="t">Down</text>
<text x="354.66" y="388.6" textLength="60.88" lengthAdjust="spacingAndGlyphs" style="font-size:22.4px" class="t">(MW)</text>
<text x="421.55" y="388.6" textLength="133.41" lengthAdjust="spacingAndGlyphs" style="font-size:22.4px" class="t">Procurement</text>
<text x="561.32" y="388.6" textLength="27.65" lengthAdjust="spacingAndGlyphs" style="font-size:22.4px" class="t">vs.</text>
<text x="594.41" y="388.6" textLength="59.99" lengthAdjust="spacingAndGlyphs" style="font-size:22.4px" class="t">5-min</text>
<text x="659.96" y="388.6" textLength="31.27" lengthAdjust="spacingAndGlyphs" style="font-size:22.4px" class="t">LFL</text>
<text x="699.82" y="388.6" textLength="57.12" lengthAdjust="spacingAndGlyphs" style="font-size:22.4px" class="t">Ramp</text>
<text x="762.52" y="388.6" textLength="8.39" lengthAdjust="spacingAndGlyphs" style="font-size:22.4px" class="t">-</text>
<text x="776.29" y="388.6" textLength="69.85" lengthAdjust="spacingAndGlyphs" style="font-size:22.4px" class="t">August</text>
<text x="462.30" y="665.4" textLength="98.91" lengthAdjust="spacingAndGlyphs" style="font-size:17.3px" class="t">Hour Ending</text>
<rect x="296.8" y="669.0" width="33.4" height="9.9" fill="#4bacc6"/>
<rect x="537.6" y="672.8" width="9.8" height="2.4" fill="#5b6670"/>
<line x1="714.1" y1="673.8" x2="749.5" y2="673.8" stroke="#fb8426" stroke-width="4.2" stroke-linecap="round"/>
<circle cx="731.9" cy="673.8" r="5.6" fill="#fb8426"/>
<text x="333.99" y="679.3" textLength="144.81" lengthAdjust="spacingAndGlyphs" style="font-size:16.8px" class="t">Reg Down Procured</text>
<text x="562.71" y="679.3" textLength="105.70" lengthAdjust="spacingAndGlyphs" style="font-size:16.8px" class="t">Max LFL Ramp</text>
<text x="752.64" y="679.3" textLength="133.06" lengthAdjust="spacingAndGlyphs" style="font-size:16.8px" class="t">Average LFL Ramp</text>
<rect x="468.40" y="400.70" width="238.20" height="132.30" rx="22" ry="22" fill="none" stroke="#fc0f1f" stroke-width="10.8"/>
</svg>
</body></html>
